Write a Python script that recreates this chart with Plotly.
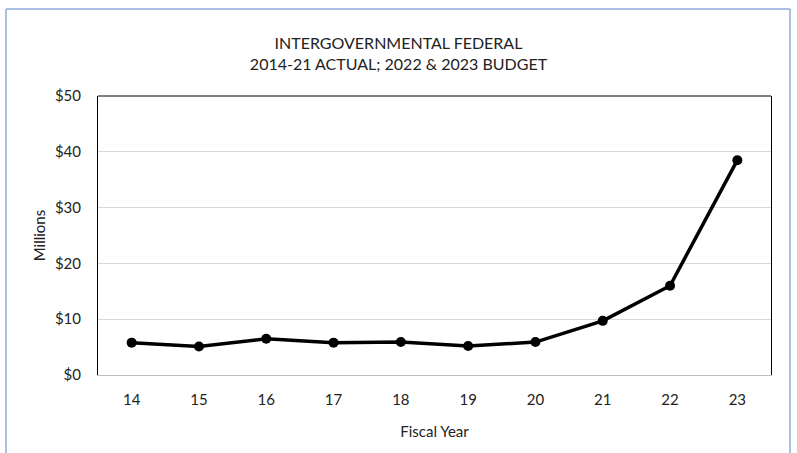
import plotly.graph_objects as go

years = ["14", "15", "16", "17", "18", "19", "20", "21", "22", "23"]
values = [5.8, 5.1, 6.5, 5.8, 5.9, 5.2, 5.9, 9.7, 16.0, 38.5]
y_ticks = [0, 10, 20, 30, 40, 50]
y_tick_labels = ["$0", "$10", "$20", "$30", "$40", "$50"]

FONT = "Lato, Calibri, Carlito, sans-serif"

L, R, T, B = 98, 771, 96, 375
W, H = 797, 453
pw, ph = R - L, B - T

def px(x):
    return (x - L) / pw

def py(y):
    return (B - y) / ph

fig = go.Figure()
fig.add_trace(go.Scatter(
    x=years, y=values, mode="lines+markers",
    line=dict(color="black", width=3.5),
    marker=dict(color="black", size=10),
    cliponaxis=False,
))

shapes = []
border_col = "#8FAADC"
shapes.append(dict(type="line", xref="paper", yref="paper", x0=px(6), x1=px(6), y0=py(9), y1=py(470), line=dict(color=border_col, width=1.5)))
shapes.append(dict(type="line", xref="paper", yref="paper", x0=px(6), x1=px(790), y0=py(9), y1=py(9), line=dict(color=border_col, width=1.5)))
shapes.append(dict(type="line", xref="paper", yref="paper", x0=px(790), x1=px(790), y0=py(9), y1=py(470), line=dict(color=border_col, width=1.5)))
shapes.append(dict(type="line", xref="paper", yref="paper", x0=0, x1=1, y0=1, y1=1, line=dict(color="black", width=1)))

fig.update_layout(
    width=W, height=H,
    margin=dict(l=L, r=W - R, t=T, b=H - B),
    paper_bgcolor="white", plot_bgcolor="white",
    showlegend=False,
    font=dict(family=FONT, color="#222222", size=15),
    title=dict(
        text="INTERGOVERNMENTAL FEDERAL<br>2014-21 ACTUAL; 2022 & 2023 BUDGET",
        x=0.5, xref="container", xanchor="center",
        y=1 - 49 / H, yref="container", yanchor="middle",
        font=dict(family=FONT, size=16, color="#222222"),
    ),
    xaxis=dict(
        type="category", range=[-0.5, 9.5],
        showgrid=False, showline=True, linecolor="#BFBFBF", linewidth=1,
        ticks="", ticklabelstandoff=11,
        title=dict(text="Fiscal Year", font=dict(family=FONT, size=15), standoff=19),
        tickfont=dict(size=15),
    ),
    yaxis=dict(
        range=[0, 50], tickvals=y_ticks, ticktext=y_tick_labels,
        showgrid=True, gridcolor="#D9D9D9", gridwidth=1,
        showline=True, linecolor="black", linewidth=1, mirror=True,
        zeroline=False, ticks="", ticklabelstandoff=13,
        title=dict(text="Millions", font=dict(family=FONT, size=15), standoff=5),
        tickfont=dict(size=15),
    ),
    shapes=shapes,
)

fig.write_html("out.html")
